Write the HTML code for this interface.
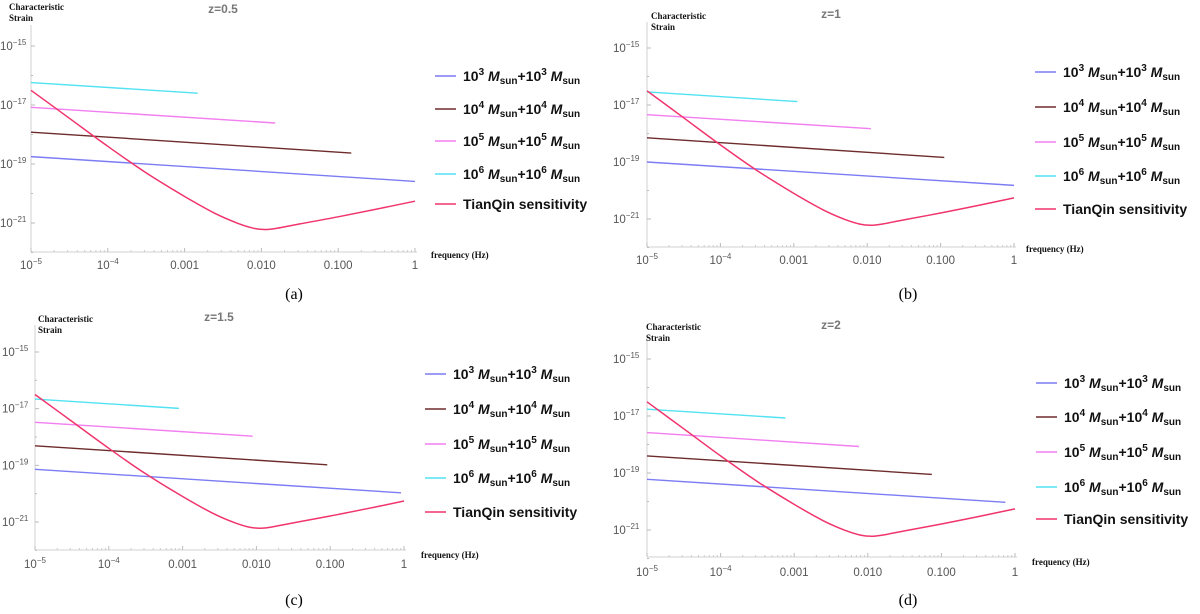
<!DOCTYPE html>
<html><head><meta charset="utf-8">
<style>
html,body{margin:0;padding:0;background:#fff;width:1200px;height:614px;overflow:hidden}
svg{display:block}
text{font-family:"Liberation Sans",sans-serif}
.serif{font-family:"Liberation Serif",serif}
</style></head>
<body>
<svg id="fig" width="1200" height="614" viewBox="0 0 1200 614" xmlns="http://www.w3.org/2000/svg"></svg>
<script>
// ---- data (log10 values) ----
const panelTitles = ["z=0.5", "z=1", "z=1.5", "z=2"];
const captions = ["(a)", "(b)", "(c)", "(d)"];
const massExp = ["3", "4", "5", "6"];
const seriesNames = ["m1e3", "m1e4", "m1e5", "m1e6"];
const startH_a = [-18.75, -17.92, -17.08, -16.24];
const endF_a   = [0, -0.83, -1.82, -2.83];
const endH_a   = [-19.59, -18.63, -17.61, -16.60];
const startH_b = [-19.00, -18.15, -17.34, -16.54];
const endF_b   = [0, -0.95, -1.95, -2.95];
const endH_b   = [-19.82, -18.84, -17.83, -16.88];
const startH_c = [-19.14, -18.31, -17.48, -16.66];
const endF_c   = [-0.04, -1.04, -2.05, -3.05];
const endH_c   = [-19.97, -18.98, -17.97, -16.99];
const startH_d = [-19.22, -18.40, -17.58, -16.76];
const endF_d   = [-0.13, -1.13, -2.12, -3.12];
const endH_d   = [-20.03, -19.05, -18.07, -17.07];
const tqLogF = [-5, -4.5, -4, -3.5, -3, -2.6, -2.3, -2.1, -1.95, -1.8, -1.5, -1, -0.5, 0];
const tqLogH = [-16.5, -17.45, -18.4, -19.3, -20.1, -20.68, -21.02, -21.18, -21.22, -21.18, -21.03, -20.79, -20.53, -20.26];
const xTickLabels = ["10<tspan dy='-5' font-size='8'>−5</tspan>", "10<tspan dy='-5' font-size='8'>−4</tspan>", "0.001", "0.010", "0.100", "1"];
const yTickExps = [-15, -17, -19, -21];

const colors = ["#7c7cf4", "#6e2c2c", "#f27ef0", "#52e2f2"];
const tqColor = "#f0346c";

const panels = [
 {x0:31, x1:415, y15:46, y21:223, yb:252, yt:25, titleX:223, titleY:13, csX:9, csY:10, freqX:431, freqY:258, xlY:269, capX:294, capY:299, legX:435, legY:[76,109,141,174,204], ylX:0, sH:startH_a, eF:endF_a, eH:endH_a},
 {x0:647, x1:1014, y15:48, y21:219, yb:247, yt:22, titleX:831, titleY:18, csX:651, csY:19, freqX:1026, freqY:252, xlY:264, capX:908, capY:299, legX:1035, legY:[72,107,142,176,209], ylX:613, sH:startH_b, eF:endF_b, eH:endH_b},
 {x0:35, x1:404, y15:352, y21:522, yb:550, yt:325, titleX:219, titleY:321, csX:38, csY:322, freqX:421, freqY:558, xlY:568, capX:294, capY:605, legX:425, legY:[374,409,444,478,512], ylX:2, sH:startH_c, eF:endF_c, eH:endH_c},
 {x0:647, x1:1015, y15:359, y21:530, yb:557, yt:335, titleX:831, titleY:329, csX:646, csY:330, freqX:1032, freqY:565, xlY:576, capX:908, capY:605, legX:1036, legY:[383,417,452,487,519], ylX:613, sH:startH_d, eF:endF_d, eH:endH_d}
];
const svg = document.getElementById('fig');
const NS = "http://www.w3.org/2000/svg";
function mk(tag, attrs, parent){const e=document.createElementNS(NS,tag);for(const k in attrs)e.setAttribute(k,attrs[k]);(parent||svg).appendChild(e);return e;}

panels.forEach((p, pi) => {
  const g = mk('g', {});
  
  
  const X = lf => p.x0 + (lf + 5) / 5 * (p.x1 - p.x0);
  const Y = lh => p.y15 + (-15 - lh) * (p.y21 - p.y15) / 6;
  const ax = mk('line', {x1:p.x0, y1:p.yb, x2:p.x1+2, y2:p.yb, stroke:'#d0d0d0', 'stroke-width':1}, g);
   
  const ay = mk('line', {x1:p.x0, y1:p.yt, x2:p.x0, y2:p.yb, stroke:'#d0d0d0', 'stroke-width':1}, g);
   
  for (let d = -5; d <= 0; d++) {
    mk('line', {x1:X(d), y1:p.yb, x2:X(d), y2:p.yb-4, stroke:'#bbb'}, g);
    if (d < 0) for (let m = 2; m <= 9; m++) {
      const xx = X(d + Math.log10(m));
      mk('line', {x1:xx, y1:p.yb, x2:xx, y2:p.yb-2, stroke:'#ccc'}, g);
    }
    const t = mk('text', {x:X(d), y:p.xlY, 'font-size':11.5, fill:'#555', 'text-anchor':'middle'}, g);
    t.innerHTML = xTickLabels[d + 5];
    
    
  }
  for (let e = -15; e >= -22; e--) {
    mk('line', {x1:p.x0, y1:Y(e), x2:p.x0+(e%2? 4:2), y2:Y(e), stroke:'#bbb'}, g);
  }
  yTickExps.forEach(e => {
    const t = mk('text', {x:p.ylX, y:Y(e)+4, 'font-size':11.5, fill:'#555'}, g);
    t.innerHTML = "10<tspan dy='-5' font-size='8'>−" + (-e) + "</tspan>";
    
    
  });
  const tt = mk('text', {x:p.titleX, y:p.titleY, 'font-size':12, fill:'#777', 'text-anchor':'middle', 'font-weight':'bold'}, g);
  tt.textContent = panelTitles[pi];
   
  const cs = mk('text', {x:p.csX, y:p.csY, 'font-size':9, fill:'#111', 'font-weight':'bold', class:'serif'}, g);
  cs.innerHTML = "Characteristic<tspan x='" + p.csX + "' dy='11'>Strain</tspan>";
   
  const fq = mk('text', {x:p.freqX, y:p.freqY, 'font-size':9, fill:'#111', 'font-weight':'bold', class:'serif'}, g);
  fq.textContent = "frequency (Hz)";
   
  const cp = mk('text', {x:p.capX, y:p.capY, 'font-size':16, fill:'#000', 'text-anchor':'middle', class:'serif'}, g);
  cp.textContent = captions[pi];
   
  for (let s = 0; s < 4; s++) {
    const ln = mk('line', {x1:X(-5), y1:Y(p.sH[s]), x2:X(p.eF[s]), y2:Y(p.eH[s]), stroke:colors[s], 'stroke-width':1.4}, g);
    
    
  }
  // smooth Catmull-Rom path through TianQin points
  const pts = tqLogF.map((f, i) => [X(f), Y(tqLogH[i])]);
  let d = 'M' + pts[0][0].toFixed(1) + ',' + pts[0][1].toFixed(1);
  for (let i = 0; i < pts.length - 1; i++) {
    const p0 = pts[Math.max(0, i-1)], p1 = pts[i], p2 = pts[i+1], p3 = pts[Math.min(pts.length-1, i+2)];
    const c1 = [p1[0] + (p2[0]-p0[0])/6, p1[1] + (p2[1]-p0[1])/6];
    const c2 = [p2[0] - (p3[0]-p1[0])/6, p2[1] - (p3[1]-p1[1])/6];
    d += 'C' + c1[0].toFixed(1) + ',' + c1[1].toFixed(1) + ' ' + c2[0].toFixed(1) + ',' + c2[1].toFixed(1) + ' ' + p2[0].toFixed(1) + ',' + p2[1].toFixed(1);
  }
  const tq = mk('path', {d:d, fill:'none', stroke:tqColor, 'stroke-width':1.5, 'stroke-linejoin':'round'}, g);
  
  
  const lcol = colors.concat([tqColor]);
  for (let i = 0; i < 5; i++) {
    const ly = p.legY[i];
    const lg = mk('g', {}, g);
    
    
    mk('line', {x1:p.legX, y1:ly, x2:p.legX+21, y2:ly, stroke:lcol[i], 'stroke-width':1.5}, lg);
    const t = mk('text', {x:p.legX+28, y:ly+5, 'font-size':14, fill:'#111', 'font-weight':'bold'}, lg);
    if (i < 4) {
      const m = massExp[i];
      t.innerHTML = "10<tspan dy='-6' font-size='10'>" + m + "</tspan><tspan dy='6' font-style='italic'> M</tspan><tspan dy='3' font-size='10'>sun</tspan><tspan dy='-3'>+10</tspan><tspan dy='-6' font-size='10'>" + m + "</tspan><tspan dy='6' font-style='italic'> M</tspan><tspan dy='3' font-size='10'>sun</tspan>";
    } else t.textContent = "TianQin sensitivity";
  }
});
</script>
</body></html>
